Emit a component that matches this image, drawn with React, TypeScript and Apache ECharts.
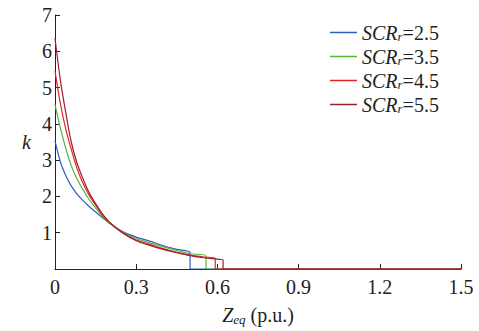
import React, { useEffect, useRef } from "react";
import * as echarts from "echarts";

const seriesNames = ["2.5", "3.5", "4.5", "5.5"];
const seriesColors = ["#2e5fbd", "#58b33a", "#e3232a", "#9e1f2c"];

const zBlue = [0, 0.02, 0.04, 0.06, 0.08, 0.1, 0.125, 0.15, 0.175, 0.2, 0.25, 0.3, 0.35, 0.4, 0.45, 0.499];
const kBlue = [3.53, 2.95, 2.57, 2.29, 2.08, 1.91, 1.73, 1.57, 1.42, 1.27, 1.03, 0.88, 0.77, 0.64, 0.54, 0.45];

const zGreen = [0, 0.02, 0.04, 0.06, 0.08, 0.1, 0.125, 0.15, 0.175, 0.2, 0.25, 0.3, 0.35, 0.4, 0.45, 0.5, 0.558];
const kGreen = [4.53, 3.88, 3.32, 2.85, 2.5, 2.23, 1.93, 1.68, 1.46, 1.27, 1.02, 0.84, 0.72, 0.61, 0.51, 0.42, 0.36];

const zRed = [0, 0.02, 0.04, 0.06, 0.08, 0.1, 0.125, 0.15, 0.175, 0.2, 0.25, 0.3, 0.35, 0.4, 0.45, 0.5, 0.55, 0.592];
const kRed = [5.46, 4.55, 3.85, 3.3, 2.8, 2.42, 2.05, 1.76, 1.5, 1.29, 1.0, 0.8, 0.68, 0.56, 0.46, 0.38, 0.33, 0.3];

const zDark = [0, 0.02, 0.04, 0.06, 0.08, 0.1, 0.125, 0.15, 0.175, 0.2, 0.25, 0.3, 0.35, 0.4, 0.45, 0.5, 0.55, 0.6, 0.621];
const kDark = [6.36, 5.2, 4.3, 3.5, 2.95, 2.55, 2.12, 1.8, 1.52, 1.3, 0.99, 0.78, 0.65, 0.54, 0.45, 0.37, 0.31, 0.27, 0.25];

const zSeries = [zBlue, zGreen, zRed, zDark];
const kSeries = [kBlue, kGreen, kRed, kDark];

const xTicks = [0, 0.3, 0.6, 0.9, 1.2, 1.5];
const xMax = 1.5;
const yMax = 7;

export default function App() {
  const ref = useRef<HTMLDivElement>(null);
  useEffect(() => {
    if (!ref.current) return;
    const chart = echarts.init(ref.current, undefined, { renderer: "svg" });
    const font = "Liberation Serif";
    const series = seriesNames.map((name, i) => {
      const zs = zSeries[i];
      const ks = kSeries[i];
      const data: number[][] = zs.map((z, j) => [z, ks[j]]);
      const zDrop = zs[zs.length - 1];
      data.push([zDrop, 0]);
      data.push([xMax, 0]);
      return {
        name: "SCR" + name,
        type: "line",
        data,
        smooth: 0.3,
        symbol: "none",
        lineStyle: { color: seriesColors[i], width: 1.2 },
        itemStyle: { color: seriesColors[i] },
      };
    });
    chart.setOption({
      animation: false,
      backgroundColor: "#ffffff",
      grid: { left: 55, right: 18, top: 15, bottom: 54 },
      legend: {
        orient: "vertical",
        left: 325,
        top: 16,
        icon: "rect",
        itemWidth: 27,
        itemHeight: 1.5,
        itemGap: 2,
        data: seriesNames.map((n, i) => ({ name: "SCR" + n, itemStyle: { color: seriesColors[i] } })),
        formatter: (name: string) => `{i|SCR}{s|r}{n|=${name.replace("SCR", "")}}`,
        textStyle: {
          fontFamily: font,
          fontSize: 20,
          color: "#222",
          lineHeight: 21,
          rich: {
            i: { fontFamily: font, fontSize: 20, fontStyle: "italic", color: "#222", lineHeight: 21 },
            s: { fontFamily: font, fontSize: 13, fontStyle: "italic", color: "#222", lineHeight: 21, verticalAlign: "bottom", padding: [9, 0, 0, 0] },
            n: { fontFamily: font, fontSize: 20, color: "#222", lineHeight: 21 },
          },
        },
      },
      xAxis: {
        type: "value",
        min: 0,
        max: xMax,
        interval: xTicks[1] - xTicks[0],
        name: "{i|Z}{s|eq}{n| (p.u.)}",
        nameLocation: "middle",
        nameGap: 34,
        nameTextStyle: {
          rich: {
            i: { fontFamily: font, fontSize: 20, fontStyle: "italic", color: "#222" },
            s: { fontFamily: font, fontSize: 13, fontStyle: "italic", color: "#222", verticalAlign: "bottom", padding: [10, 0, 0, 0] },
            n: { fontFamily: font, fontSize: 20, color: "#222" },
          },
        },
        splitLine: { show: false },
        axisLine: { lineStyle: { color: "#222", width: 1 } },
        axisTick: { inside: true, length: 5, lineStyle: { color: "#222" } },
        axisLabel: {
          fontFamily: font,
          fontSize: 20,
          color: "#222",
          margin: 8,
          formatter: (v: number) => String(+v.toFixed(1)),
        },
      },
      yAxis: {
        type: "value",
        min: 0,
        max: yMax,
        interval: 1,
        name: "k",
        nameLocation: "middle",
        nameRotate: 0,
        nameGap: 24,
        nameTextStyle: { fontFamily: font, fontSize: 20, fontStyle: "italic", color: "#222" },
        splitLine: { show: false },
        axisLine: { show: true, lineStyle: { color: "#222", width: 1 } },
        axisTick: { show: true, inside: true, length: 5, lineStyle: { color: "#222" } },
        axisLabel: {
          fontFamily: font,
          fontSize: 20,
          color: "#222",
          margin: 3,
          formatter: (v: number) => (v === 0 ? "" : String(v)),
        },
      },
      series,
    });
    return () => chart.dispose();
  }, []);
  return <div ref={ref} style={{ position: "fixed", left: 0, top: 0, width: 479, height: 331 }} />;
}
